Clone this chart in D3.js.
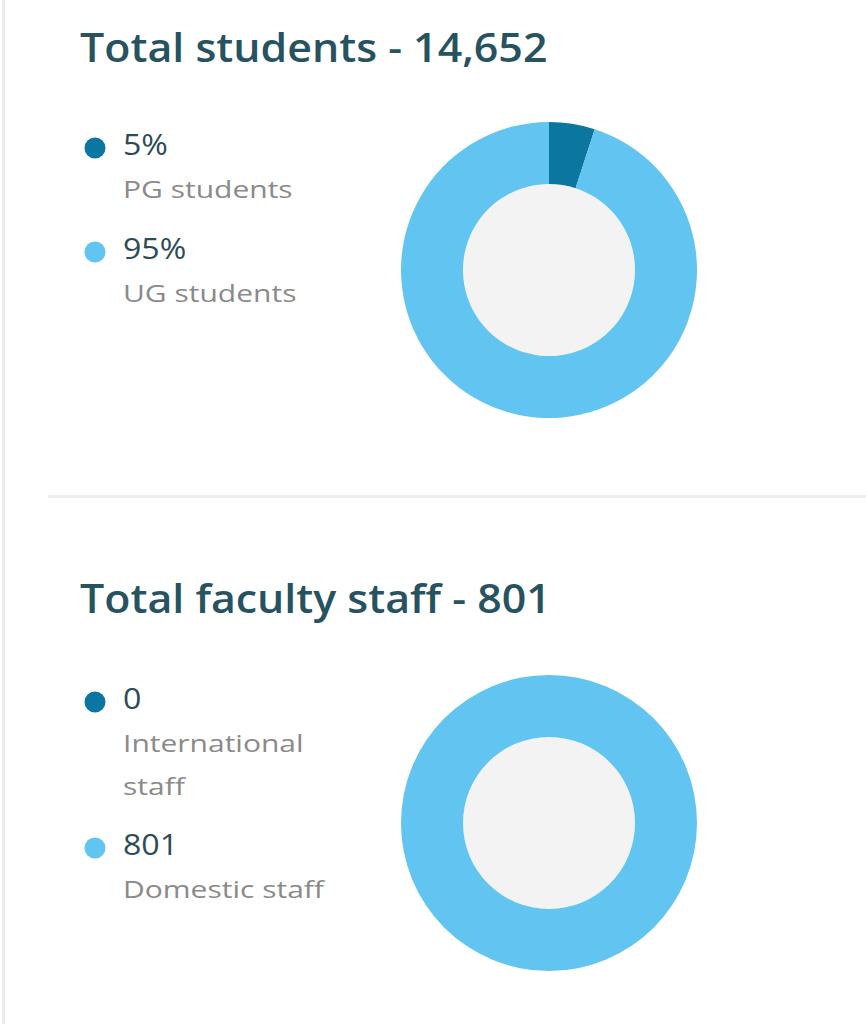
<!DOCTYPE html>
<html>
<head>
<meta charset="utf-8">
<script src="https://cdn.jsdelivr.net/npm/d3@7"></script>
<style>
  html, body { margin: 0; padding: 0; background: #fff; }
  svg { display: block; }
</style>
</head>
<body>
<svg id="chart" width="866" height="1024"></svg>
<script>
// Student and staff breakdowns
const studentTitle = "Total students - 14,652";
const studentLabels = ["PG students", "UG students"];
const studentValues = [5, 95];
const studentTexts = ["5%", "95%"];

const staffTitle = "Total faculty staff - 801";
const staffLabels = [["International", "staff"], ["Domestic staff"]];
const staffValues = [0, 801];
const staffTexts = ["0", "801"];

const colors = ["#0b77a0", "#62c4f0"];

const svg = d3.select("#chart");
const FONT = "'Open Sans', sans-serif";

// widen a text run by a factor (the typeface used here is narrower than the house font)
function stretch(sel, k) {
  sel.each(function () {
    const w = this.getComputedTextLength();
    d3.select(this).attr("textLength", w * k).attr("lengthAdjust", "spacingAndGlyphs");
  });
  return sel;
}

// card edge and divider
svg.append("rect").attr("x", 2).attr("y", 0).attr("width", 3).attr("height", 1024).attr("fill", "#ececec");
svg.append("rect").attr("x", 48).attr("y", 495).attr("width", 818).attr("height", 3).attr("fill", "#ededed");

const pie = d3.pie().sort(null).value(d => d);
const arc = d3.arc().innerRadius(86).outerRadius(148);

function panel(top, titleBase, title, labels, values, texts, dots) {
  const g = svg.append("g");
  stretch(g.append("text")
    .attr("x", 80).attr("y", top + titleBase)
    .attr("font-family", FONT)
    .attr("font-weight", 600)
    .attr("font-size", 39)
    .attr("fill", "#27525f")
    .text(title), 1.1);

  // legend
  dots.forEach((cy, i) => {
    g.append("circle").attr("cx", 95).attr("cy", top + cy).attr("r", 10.5).attr("fill", colors[i]);
    stretch(g.append("text")
      .attr("x", 123).attr("y", top + cy + 7)
      .attr("font-family", FONT)
      .attr("font-size", 30)
      .attr("fill", "#2c4b56")
      .text(texts[i]), 1.07);
    labels[i].forEach((line, j) => {
      stretch(g.append("text")
        .attr("x", 123).attr("y", top + cy + 50 + j * 43)
        .attr("font-family", FONT)
        .attr("font-size", 24)
        .attr("fill", "#8a8a8a")
        .text(line), 1.25);
    });
  });

  // donut
  const cg = g.append("g").attr("transform", `translate(549,${top + 270})`);
  cg.append("circle").attr("r", 86).attr("fill", "#f3f3f4");
  cg.selectAll("path")
    .data(pie(values))
    .join("path")
    .attr("d", arc)
    .attr("fill", (d, i) => colors[i]);
}

panel(0, 62, studentTitle, studentLabels.map(s => [s]), studentValues, studentTexts, [148, 252]);
panel(553, 60, staffTitle, staffLabels, staffValues, staffTexts, [149, 295]);
</script>
</body>
</html>
